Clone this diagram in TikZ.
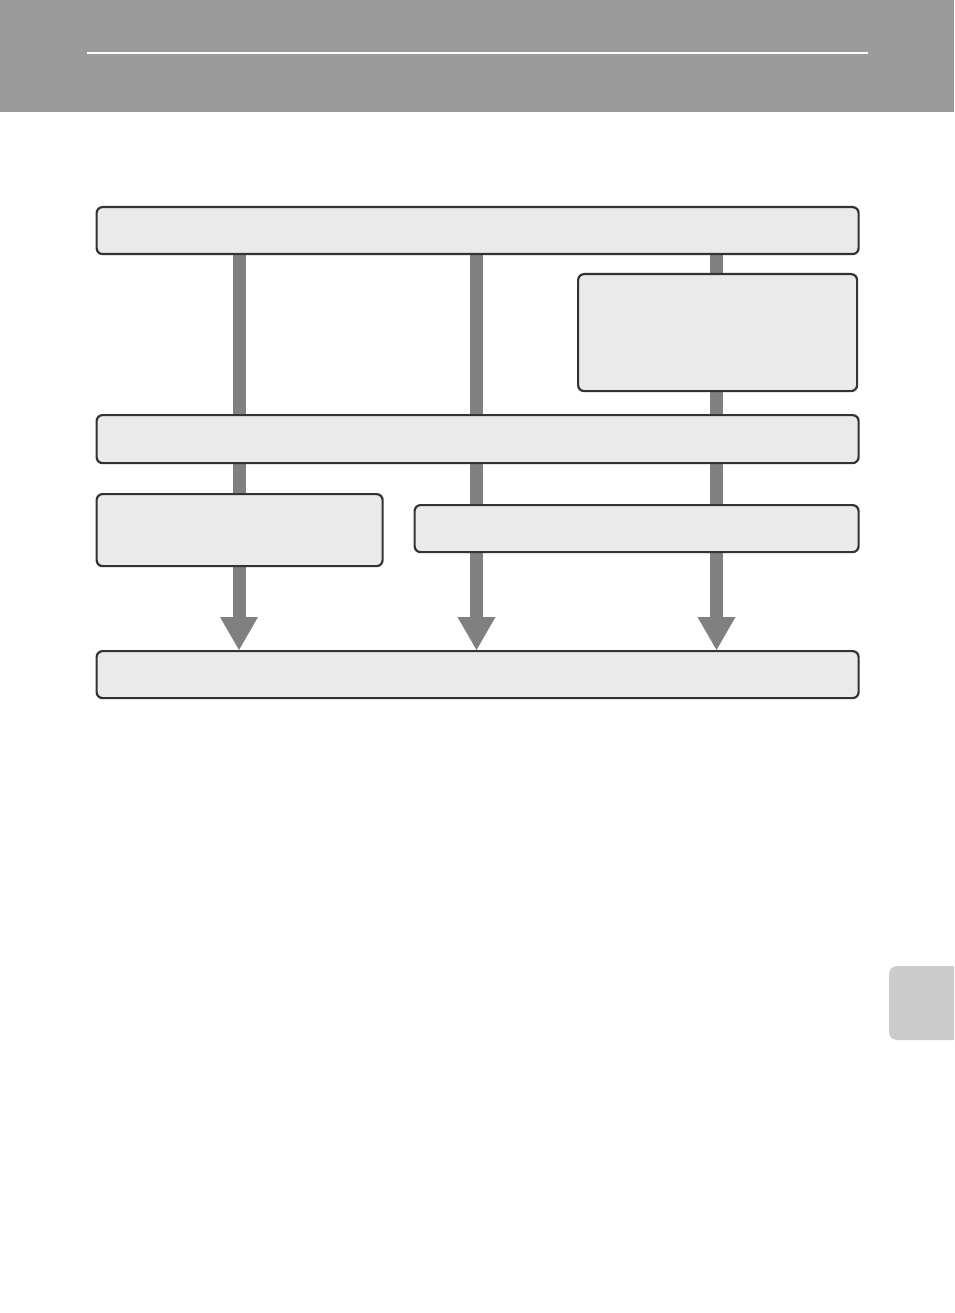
\documentclass[tikz,border=0pt]{standalone}
\usetikzlibrary{arrows.meta,backgrounds}
\definecolor{hdr}{HTML}{9B9B9B}
\definecolor{boxfill}{HTML}{EAEAEA}
\definecolor{boxline}{HTML}{333333}
\definecolor{barc}{HTML}{808080}
\definecolor{tabc}{HTML}{CCCCCC}
\begin{document}
\begin{tikzpicture}[x=1pt,y=-1pt,
  flowbox/.style={draw=boxline,fill=boxfill,line width=2.2pt,rounded corners=6pt,inner sep=0pt,anchor=north west},
  flowarrow/.style={draw=barc,line width=13pt,-{Triangle[width=38pt,length=33pt,line width=0pt]}}]
\useasboundingbox (0,0) rectangle (954,1313);
% boxes
\node[flowbox,minimum width=762pt,minimum height=47pt] (top) at (95.5,206) {};
\node[flowbox,minimum width=279pt,minimum height=117pt] (side) at (577,273) {};
\node[flowbox,minimum width=762pt,minimum height=48pt] (mid) at (95.5,414) {};
\node[flowbox,minimum width=286pt,minimum height=72pt] (left) at (95.5,493) {};
\node[flowbox,minimum width=444pt,minimum height=47pt] (right) at (413.5,504) {};
\node[flowbox,minimum width=762pt,minimum height=47pt] (bot) at (95.5,650) {};
% column positions
\coordinate (c1) at (239,0);
\coordinate (c2) at (476.5,0);
\coordinate (c3) at (716.5,0);
\begin{scope}[on background layer]
\fill[white] (0,0) rectangle (954,1313);
% header
\fill[hdr] (0,0) rectangle (954,112);
\draw[white,line width=1.2pt] (87,53) -- (868,53);
% tab
\begin{scope}
\clip (0,0) rectangle (954,1313);
\fill[tabc,rounded corners=8pt] (889,966) rectangle (975,1040);
\end{scope}
% connectors
\draw[flowarrow] (top.south -| c1) -- (bot.north -| c1);
\draw[flowarrow] (top.south -| c2) -- (bot.north -| c2);
\draw[flowarrow] (top.south -| c3) -- (bot.north -| c3);
\end{scope}
\end{tikzpicture}
\end{document}
